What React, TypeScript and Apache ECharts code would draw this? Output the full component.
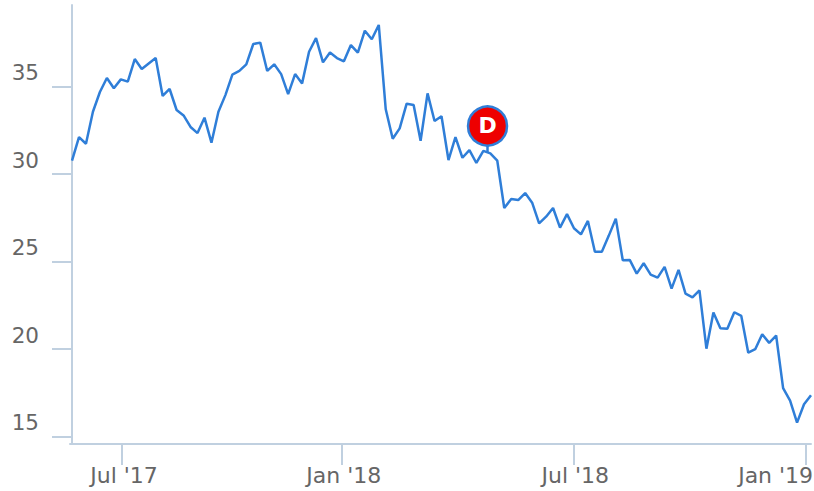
import React, { useEffect, useRef } from "react";
import * as echarts from "echarts";

const prices = [
  30.77, 32.12, 31.74, 33.57, 34.7, 35.5, 34.91, 35.42, 35.29, 36.58,
  36.01, 36.33, 36.64, 34.47, 34.87, 33.67, 33.36, 32.7, 32.35, 33.23,
  31.8, 33.57, 34.52, 35.69, 35.9, 36.28, 37.44, 37.52, 35.9, 36.28,
  35.72, 34.58, 35.72, 35.19, 37.0, 37.78, 36.39, 36.95, 36.64, 36.45,
  37.38, 36.95, 38.2, 37.71, 38.53, 33.71, 32.03, 32.62, 34.03, 33.95,
  31.91, 34.62, 33.04, 33.31, 30.81, 32.12, 30.94, 31.38, 30.64, 31.33,
  31.19, 30.77, 28.07, 28.58, 28.52, 28.92, 28.37, 27.19, 27.57, 28.07,
  26.95, 27.72, 26.91, 26.56, 27.33, 25.57, 25.57, 26.49, 27.46, 25.08,
  25.1, 24.32, 24.91, 24.26, 24.09, 24.7, 23.46, 24.53, 23.17, 22.96,
  23.36, 20.03, 22.09, 21.19, 21.17, 22.11, 21.9, 19.8, 20.0, 20.85,
  20.36, 20.78, 17.77, 17.06, 15.8, 16.85, 17.37,
];
const xTicks = [7.17, 38.7, 71.9, 105.3];
const xLabels = ["Jul '17", "Jan '18", "Jul '18", "Jan '19"];
const yTicks = [15, 20, 25, 30, 35];
const flagAnchor = [59.6, 31.27];
const flagTop = 31.7;
const flagText = "D";

const axisColor = "#C0D0E0";
const textColor = "#666666";
const font = "'DejaVu Sans'";
const fontSize = 21.5;

export default function App() {
  const ref = useRef<HTMLDivElement>(null);
  useEffect(() => {
    const chart = echarts.init(ref.current!, undefined, { renderer: "svg" });
    chart.setOption({
      animation: false,
      grid: { left: 70, right: 3, top: 5, bottom: 47, outerBoundsMode: "none" },
      xAxis: {
        type: "value",
        min: -0.29,
        max: prices.length - 1,
        splitLine: { show: false },
        axisLine: { show: true, lineStyle: { color: axisColor, width: 2 } },
        axisTick: {
          show: true,
          length: 21,
          customValues: xTicks,
          lineStyle: { color: axisColor, width: 2 },
        },
        axisLabel: {
          customValues: xTicks,
          margin: 20,
          color: textColor,
          fontFamily: font,
          fontSize,
          formatter: (v: number) => {
            const s = xLabels[xTicks.indexOf(v)] ?? "";
            return s === xLabels[xLabels.length - 1] ? `{last|${s}}` : `{n|${s}}`;
          },
          rich: {
            n: { color: textColor, fontFamily: font, fontSize: 22, padding: [0, 0, 0, 4] },
            last: { color: textColor, fontFamily: font, fontSize: 22, padding: [0, 61, 0, 0] },
          },
        },
      },
      yAxis: {
        type: "value",
        min: 14.58,
        max: 39.67,
        splitLine: { show: false },
        axisLine: { show: true, lineStyle: { color: axisColor, width: 2 } },
        axisTick: {
          show: true,
          length: 20,
          customValues: yTicks,
          lineStyle: { color: axisColor, width: 2 },
        },
        axisLabel: {
          customValues: yTicks,
          margin: 31,
          color: textColor,
          fontFamily: font,
          fontSize,
          verticalAlign: "bottom",
          padding: [0, 0, 3, 0],
        },
      },
      series: [
        {
          type: "line",
          data: prices.map((p, i) => [i, p]),
          showSymbol: false,
          clip: false,
          lineStyle: { color: "#2F7ED8", width: 2.5 },
          markLine: {
            silent: true,
            symbol: "none",
            label: { show: false },
            lineStyle: { color: "#2F7ED8", width: 2.5, type: "solid" },
            data: [[{ coord: flagAnchor }, { coord: [flagAnchor[0], flagTop] }]],
          },
          markPoint: {
            silent: true,
            symbol: "circle",
            symbolSize: 39,
            symbolOffset: [0, -26],
            itemStyle: { color: "#EE0000", borderColor: "#2F7ED8", borderWidth: 2.5 },
            label: {
              show: true,
              formatter: flagText,
              color: "#FFFFFF",
              fontFamily: font,
              fontWeight: "bold",
              fontSize: 22,
            },
            data: [{ coord: flagAnchor }],
          },
        },
      ],
    });
    return () => chart.dispose();
  }, []);
  return <div ref={ref} style={{ position: "absolute", left: 0, top: 0, width: 814, height: 491 }} />;
}
